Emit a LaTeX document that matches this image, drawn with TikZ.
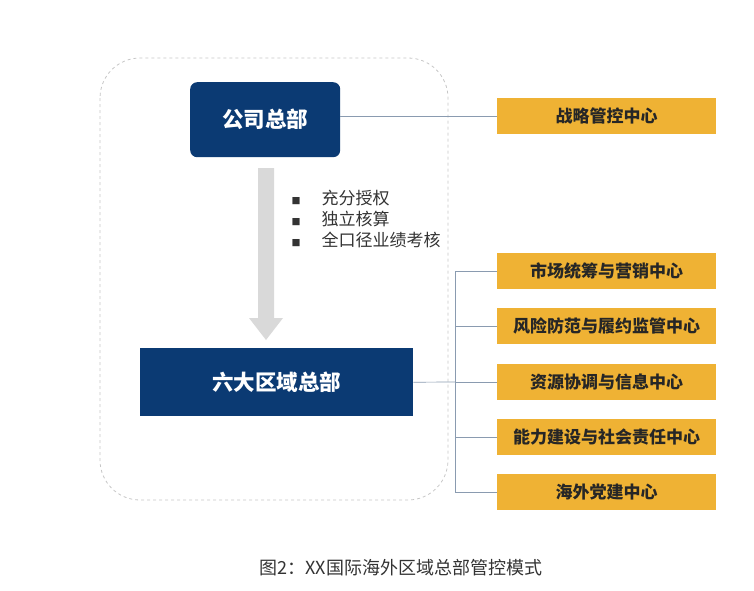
\documentclass[tikz,border=0pt]{standalone}
\usepackage{fontspec}
\setmainfont{Noto Sans CJK SC}
\begin{document}
\begin{tikzpicture}[x=1pt,y=-1pt,
  hq/.style={fill=hqblue,text=white,font=\bfseries\fontsize{21.5}{24}\selectfont,anchor=north west,inner sep=0},
  ctr/.style={fill=ctrgold,minimum width=219pt,minimum height=36pt,font=\bfseries\fontsize{17}{19}\selectfont,text=black!85},
  link/.style={draw=linegray,line width=0.7pt}]
\definecolor{hqblue}{HTML}{0B3A73}
\definecolor{ctrgold}{HTML}{EFB234}
\definecolor{linegray}{HTML}{8A9BB0}
\useasboundingbox (0,0) rectangle (754,590);
\draw[gray!45,dashed,line width=0.8pt,rounded corners=40pt] (100,58) rectangle (448,500);
\node[hq,rounded corners=7pt,minimum width=150pt,minimum height=75pt] (a) at (190,82) {公司总部};
\node[hq,minimum width=273pt,minimum height=68pt] (b) at (140,348) {六大区域总部};
\fill[gray!30] (258,168) -- (274,168) -- (274,318) -- (283,318) -- (266,340) -- (249,318) -- (258,318) -- cycle;
\node[anchor=west,font=\fontsize{17}{21}\selectfont,text=black!80,align=left] (t) at (288,219)
 {\rlap{\small■}\hspace{30pt}充分授权\\\rlap{\small■}\hspace{30pt}独立核算\\\rlap{\small■}\hspace{30pt}全口径业绩考核};
\node[ctr] (c0) at (606.5,116) {战略管控中心};
\node[ctr] (c1) at (606.5,271) {市场统筹与营销中心};
\node[ctr] (c2) at (606.5,326) {风险防范与履约监管中心};
\node[ctr] (c3) at (606.5,382) {资源协调与信息中心};
\node[ctr] (c4) at (606.5,437) {能力建设与社会责任中心};
\node[ctr] (c5) at (606.5,492) {海外党建中心};
\draw[link] (a.east|-c0) -- (c0.west);
\coordinate (j) at (455,382);
\draw[link] (b.east) -- (j);
\draw[link] (j|-c1) -- (j|-c5);
\foreach \i in {1,...,5}{\draw[link] (j|-c\i) -- (c\i.west);}
\node[font=\fontsize{18}{20}\selectfont,text=black!80] (cap) at (401,568) {图2：XX国际海外区域总部管控模式};
\end{tikzpicture}
\end{document}
